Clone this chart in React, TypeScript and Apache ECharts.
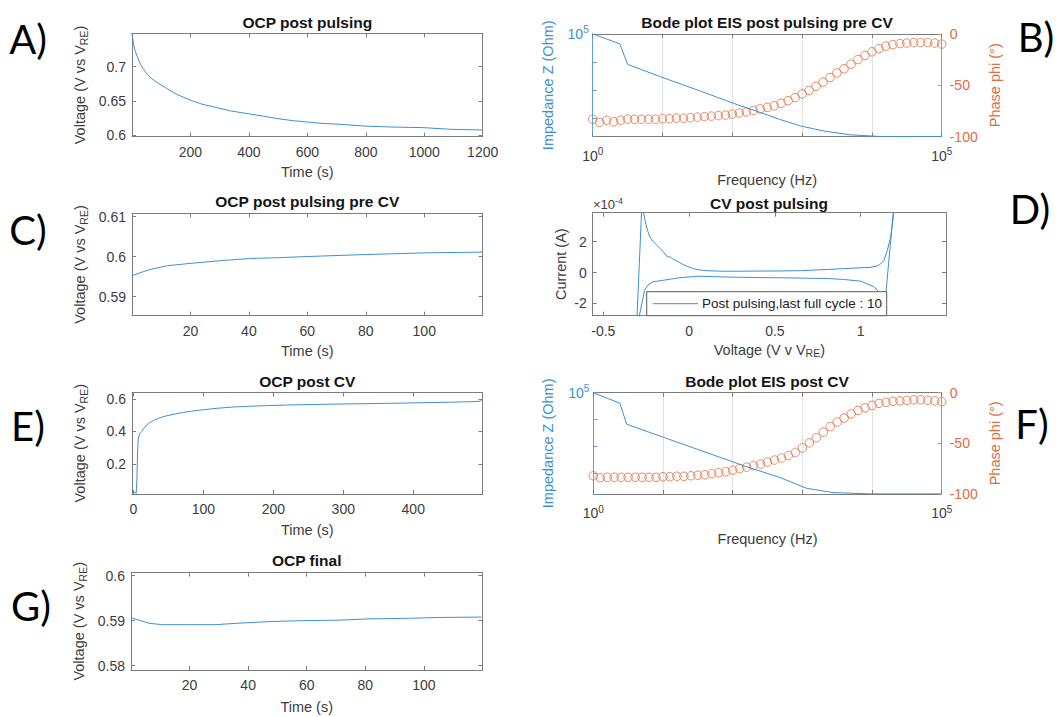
import React, { useEffect, useRef } from 'react';
import * as echarts from 'echarts';

// ---------- DATA ----------
// A) OCP post pulsing
const ocpPostPulsingTime = [0, 4.6, 10, 16, 27, 38, 50, 65, 85, 100, 119, 150, 199, 240, 290, 340, 399, 450, 496, 550, 599, 650, 713, 799, 885, 999, 1091, 1200];
const ocpPostPulsingV = [0.749, 0.734, 0.724, 0.717, 0.705, 0.697, 0.69, 0.683, 0.677, 0.673, 0.668, 0.66, 0.651, 0.645, 0.64, 0.635, 0.631, 0.6275, 0.624, 0.621, 0.619, 0.617, 0.6156, 0.613, 0.6117, 0.6107, 0.6083, 0.6073];

// C) OCP post pulsing pre CV
const ocpPreCVTime = [0, 3, 6.5, 12.2, 20.2, 29.4, 40.3, 50, 60.3, 80, 100, 120];
const ocpPreCVV = [0.5952, 0.596, 0.5968, 0.5977, 0.5983, 0.5989, 0.5995, 0.5997, 0.6, 0.6005, 0.6009, 0.6011];

// E) OCP post CV
const ocpPostCVTime = [0, 2, 4, 5, 6, 7, 9, 12, 15, 19, 24, 29, 35, 42, 48, 60, 72, 85, 100, 120, 143, 170, 190, 220, 240, 270, 293, 330, 360, 389, 420, 450, 480, 496, 498];
const ocpPostCVV = [0.03, 0.025, 0.02, 0.1, 0.28, 0.36, 0.385, 0.4, 0.418, 0.44, 0.456, 0.468, 0.48, 0.49, 0.497, 0.508, 0.518, 0.526, 0.534, 0.543, 0.551, 0.556, 0.559, 0.563, 0.565, 0.567, 0.569, 0.571, 0.573, 0.575, 0.578, 0.58, 0.583, 0.586, 0.598];

// G) OCP final
const ocpFinalTime = [0.2, 2.8, 6.2, 10.8, 20, 29, 36, 47.7, 59, 70.7, 82, 93.7, 105, 119.6];
const ocpFinalV = [0.5906, 0.5901, 0.5894, 0.5891, 0.5891, 0.5891, 0.5894, 0.5898, 0.59, 0.5901, 0.5904, 0.5905, 0.5907, 0.5908];

// EIS frequencies (Hz)
const eisFreq = [1, 1.259, 1.585, 1.995, 2.512, 3.162, 3.981, 5.012, 6.31, 7.943, 10, 12.59, 15.85, 19.95, 25.12, 31.62, 39.81, 50.12, 63.1, 79.43, 100, 125.9, 158.5, 199.5, 251.2, 316.2, 398.1, 501.2, 631, 794.3, 1000, 1259, 1585, 1995, 2512, 3162, 3981, 5012, 6310, 7943, 10000, 12589, 15849, 19953, 25119, 31623, 39811, 50119, 63096, 79433, 100000];

// B) Bode post pulsing pre CV
const phaseB = [-83, -86, -84, -85.5, -84, -83, -83, -83, -83, -83, -82.5, -82.5, -82, -82, -81.5, -81, -80.5, -80, -79.5, -79, -78, -77, -76, -74.5, -73, -71.5, -70, -67.5, -65, -62, -58.5, -55, -51, -47, -42.5, -38, -34, -29.5, -25, -21, -17.5, -14.5, -12, -10.5, -9.5, -9, -8.5, -8.5, -8.5, -9, -10];
const impFreqB = [1, 2.45, 3.16, 9.12, 34.7, 129, 251, 479, 933, 1995, 4898, 13183, 100000];
const impB = [100000, 43650, 8128, 3020, 912, 275, 158, 89, 52.5, 34.7, 25.1, 21.9, 21.7];

// F) Bode post CV
const phaseF = [-82, -84, -83.5, -83.5, -83.5, -83.5, -83.5, -83.5, -83.5, -83.5, -83, -83, -82.5, -82.5, -82, -81.5, -81, -80, -79, -78, -76.5, -75, -73.5, -72, -70.5, -68.5, -66.5, -64.5, -62, -59, -54.5, -49.5, -44.5, -39, -33.5, -29, -25, -21, -17.5, -15, -12.5, -10.5, -9.5, -8.5, -8, -7.5, -7, -7, -7.5, -8, -9];
const impFreqF = [1, 2.4, 3.02, 9.12, 33.9, 158, 479, 1148, 2754, 9333, 100000];
const impF = [100000, 40738, 6761, 2455, 741, 182, 72.4, 28.8, 20, 17.9, 17.9];

// D) CV post pulsing (V vs V_RE, A)
const cvVoltage = [
  -0.32, -0.275, -0.266, -0.257, -0.243, -0.228, -0.208, -0.169, -0.14, -0.125, -0.11, -0.095, -0.071, -0.04, -0.013, 0.026, 0.084, 0.2, 0.35, 0.5, 0.65, 0.805, 0.9, 0.98, 1.05, 1.09, 1.11, 1.136, 1.155, 1.175, 1.192, 1.215,
  1.125, 1.107, 1.078, 1.0, 0.9, 0.81, 0.6, 0.43, 0.25, 0.05, -0.05, -0.15, -0.21, -0.24, -0.26, -0.29, -0.32,
];
const cvCurrent = [
  -7.0e-4, 4.5e-4, 3.9e-4, 3.4e-4, 2.75e-4, 2.3e-4, 2.0e-4, 1.56e-4, 1.2e-4, 1.0e-4, 1.02e-4, 0.88e-4, 0.75e-4, 0.55e-4, 0.41e-4, 0.24e-4, 0.13e-4, 0.08e-4, 0.09e-4, 0.1e-4, 0.12e-4, 0.2e-4, 0.25e-4, 0.3e-4, 0.33e-4, 0.4e-4, 0.5e-4, 0.8e-4, 1.45e-4, 2.3e-4, 3.8e-4, 7.0e-4,
  -4.0e-4, -1.26e-4, -0.93e-4, -0.56e-4, -0.45e-4, -0.39e-4, -0.35e-4, -0.33e-4, -0.3e-4, -0.24e-4, -0.33e-4, -0.5e-4, -0.6e-4, -0.82e-4, -1.15e-4, -2.8e-4, -7.0e-4,
];
const cvLegend = 'Post pulsing,last full cycle : 10';

// Tick values
const ticksA_x = [200, 400, 600, 800, 1000, 1200];
const ticksA_y = [0.6, 0.65, 0.7];
const ticksC_x = [20, 40, 60, 80, 100];
const ticksC_y = [0.59, 0.6, 0.61];
const ticksE_x = [0, 100, 200, 300, 400];
const ticksE_y = [0.2, 0.4, 0.6];
const ticksG_x = [20, 40, 60, 80, 100];
const ticksG_y = [0.58, 0.59, 0.6];
const ticksD_x = [-0.5, 0, 0.5, 1];
const ticksD_y = [-2e-4, 0, 2e-4];
const ticksPhase = [-100, -50, 0];

// ---------- STYLE ----------
const FONT = '"Liberation Sans", Arial, Helvetica, sans-serif';
const LINE = '#7c7c7c';
const TXT = '#3d3d3d';
const BLUE = '#3e90d2';
const ORANGE = '#de6d3f';
const TICK_FS = 14;
const NAME_FS = 14.5;

const grids = [
  { left: 132, top: 33.3, width: 350.7, height: 103.4 }, // A
  { left: 592.7, top: 33.8, width: 349, height: 102.9 }, // B
  { left: 132, top: 213.3, width: 350.7, height: 102.4 }, // C
  { left: 592.7, top: 212.7, width: 353.3, height: 103 }, // D
  { left: 132, top: 392.5, width: 350.5, height: 101.5 }, // E
  { left: 593.3, top: 392.7, width: 348.4, height: 101.3 }, // F
  { left: 131, top: 572.6, width: 351.4, height: 102.4 }, // G
];

const subRich = {
  sub: { fontSize: 10.5, lineHeight: 10, verticalAlign: 'bottom', fontFamily: FONT, color: TXT },
};
const supRichFor = (color: string) => ({
  sup: { fontSize: 10, lineHeight: 10, verticalAlign: 'top', fontFamily: FONT, color },
});

function zip(a: number[], b: number[]) {
  return a.map((v, i) => [v, b[i]]);
}

function fmtNum(v: number) {
  return String(parseFloat(v.toFixed(6)));
}

type VA = {
  grid: number;
  position: 'bottom' | 'top' | 'left' | 'right';
  min: number;
  max: number;
  ticks: number[];
  labels?: boolean;
  formatter?: (v: number) => string;
  name?: string;
  nameGap?: number;
  color?: string;
  lineColor?: string;
  margin?: number;
};

function valueAxis(p: VA) {
  const lc = p.lineColor ?? LINE;
  return {
    type: 'value',
    gridIndex: p.grid,
    position: p.position,
    min: p.min,
    max: p.max,
    axisLine: { show: true, onZero: false, lineStyle: { color: lc, width: 1 } },
    axisTick: { show: true, inside: true, length: 4, customValues: p.ticks, lineStyle: { color: lc, width: 1 } },
    axisLabel: {
      show: !!p.labels,
      customValues: p.ticks,
      formatter: p.formatter ?? fmtNum,
      color: p.color ?? TXT,
      fontSize: TICK_FS,
      fontFamily: FONT,
      margin: p.margin ?? 8,
    },
    splitLine: { show: false },
    name: p.name,
    nameLocation: 'middle',
    nameGap: p.nameGap ?? 30,
    nameRotate: p.position === 'left' || p.position === 'right' ? 90 : 0,
    nameTextStyle: {
      fontSize: NAME_FS,
      fontFamily: FONT,
      color: p.color ?? TXT,
      lineHeight: 18,
      rich: subRich,
    },
  };
}

function logXAxis(grid: number, position: 'bottom' | 'top', labels: boolean, name?: string, nameGap?: number) {
  return {
    type: 'log',
    logBase: 10,
    gridIndex: grid,
    position,
    min: 1,
    max: 100000,
    axisLine: { show: true, onZero: false, lineStyle: { color: LINE, width: 1 } },
    axisTick: { show: true, inside: true, length: 4, lineStyle: { color: LINE } },
    axisLabel: {
      show: labels,
      color: TXT,
      fontSize: TICK_FS,
      fontFamily: FONT,
      margin: 10,
      lineHeight: 18,
      formatter: (v: number) => {
        const e = Math.log10(v);
        if (Math.abs(e) < 0.01) return '10{sup|0}';
        if (Math.abs(e - 5) < 0.01) return '10{sup|5}';
        return '';
      },
      rich: supRichFor(TXT),
    },
    splitLine: {
      show: position === 'bottom',
      lineStyle: { color: '#c4c4c4', type: 'dotted', width: 1 },
    },
    name,
    nameLocation: 'middle',
    nameGap: nameGap ?? 36,
    nameTextStyle: { fontSize: NAME_FS, fontFamily: FONT, color: TXT },
  };
}

function logYAxis(grid: number, min: number) {
  return {
    type: 'log',
    logBase: 10,
    gridIndex: grid,
    position: 'left',
    min,
    max: 100000,
    axisLine: { show: true, onZero: false, lineStyle: { color: '#5d9fd6', width: 1 } },
    axisTick: { show: true, inside: true, length: 4, lineStyle: { color: '#5d9fd6' } },
    axisLabel: {
      show: true,
      color: BLUE,
      fontSize: TICK_FS,
      fontFamily: FONT,
      margin: 4,
      lineHeight: 18,
      formatter: (v: number) => (Math.abs(Math.log10(v) - 5) < 0.01 ? '10{sup|5}' : ''),
      rich: supRichFor(BLUE),
    },
    splitLine: { show: false },
    name: 'Impedance Z (Ohm)',
    nameLocation: 'middle',
    nameRotate: 90,
    nameGap: 36,
    nameTextStyle: { fontSize: NAME_FS, fontFamily: FONT, color: BLUE, lineHeight: 18 },
  };
}

function phaseAxis(grid: number) {
  return {
    type: 'value',
    gridIndex: grid,
    position: 'right',
    min: -100,
    max: 0,
    axisLine: { show: true, onZero: false, lineStyle: { color: '#d98a66', width: 1 } },
    axisTick: { show: true, inside: true, length: 4, customValues: ticksPhase, lineStyle: { color: '#d98a66' } },
    axisLabel: {
      show: true,
      customValues: ticksPhase,
      color: ORANGE,
      fontSize: TICK_FS,
      fontFamily: FONT,
      margin: 8,
    },
    splitLine: { show: false },
    name: 'Phase phi (°)',
    nameLocation: 'middle',
    nameRotate: 90,
    nameGap: 44,
    nameTextStyle: { fontSize: NAME_FS, fontFamily: FONT, color: ORANGE, lineHeight: 18 },
  };
}

const voltName = 'Voltage (V vs V{sub|RE})';

function lineSeries(x: number, data: number[][]) {
  return {
    type: 'line',
    xAxisIndex: x,
    yAxisIndex: x,
    data,
    showSymbol: false,
    symbol: 'none',
    smooth: false,
    clip: true,
    silent: true,
    lineStyle: { color: BLUE, width: 1 },
    itemStyle: { color: BLUE },
  };
}

function phaseSeries(idx: number, phase: number[]) {
  return {
    type: 'scatter',
    xAxisIndex: idx * 2,
    yAxisIndex: idx * 2 + 1,
    data: zip(eisFreq, phase),
    symbol: 'circle',
    symbolSize: 8.5,
    silent: true,
    itemStyle: { color: 'rgba(255,255,255,0)', borderColor: ORANGE, borderWidth: 1 },
  };
}

function ocpAxes(i: number, xr: [number, number], xt: number[], yr: [number, number], yt: number[], xNameGap: number) {
  const x = [
    valueAxis({ grid: i, position: 'bottom', min: xr[0], max: xr[1], ticks: xt, labels: true, name: 'Time (s)', nameGap: xNameGap }),
    valueAxis({ grid: i, position: 'top', min: xr[0], max: xr[1], ticks: xt }),
  ];
  const y = [
    valueAxis({ grid: i, position: 'left', min: yr[0], max: yr[1], ticks: yt, labels: true, name: voltName, nameGap: 43, margin: 6 }),
    valueAxis({ grid: i, position: 'right', min: yr[0], max: yr[1], ticks: yt }),
  ];
  return { x, y };
}

function buildOption() {
  const A = ocpAxes(0, [0, 1200], ticksA_x, [0.5975, 0.7487], ticksA_y, 26);
  const C = ocpAxes(2, [0, 120], ticksC_x, [0.5852, 0.6108], ticksC_y, 26);
  const E = ocpAxes(4, [-2, 499], ticksE_x, [0.015, 0.64], ticksE_y, 27);
  const G = ocpAxes(6, [0, 120], ticksG_x, [0.579, 0.6007], ticksG_y, 28);

  const D = {
    x: [
      valueAxis({ grid: 3, position: 'bottom', min: -0.562, max: 1.497, ticks: ticksD_x, labels: true, name: 'Voltage (V v V{sub|RE})', nameGap: 25 }),
      valueAxis({ grid: 3, position: 'top', min: -0.562, max: 1.497, ticks: ticksD_x }),
    ],
    y: [
      valueAxis({
        grid: 3, position: 'left', min: -2.8e-4, max: 3.88e-4, ticks: ticksD_y, labels: true,
        formatter: (v: number) => String(Math.round(v * 1e4)), name: 'Current (A)', nameGap: 22, margin: 6,
      }),
      valueAxis({ grid: 3, position: 'right', min: -2.8e-4, max: 3.88e-4, ticks: ticksD_y }),
    ],
  };

  const xAxis = [
    ...A.x,
    logXAxis(1, 'bottom', true, 'Frequency (Hz)', 36),
    logXAxis(1, 'top', false),
    ...C.x,
    ...D.x,
    ...E.x,
    logXAxis(5, 'bottom', true, 'Frequency (Hz)', 37),
    logXAxis(5, 'top', false),
    ...G.x,
  ];
  const yAxis = [
    ...A.y,
    logYAxis(1, 21.5),
    phaseAxis(1),
    ...C.y,
    ...D.y,
    ...E.y,
    logYAxis(5, 17.7),
    phaseAxis(5),
    ...G.y,
  ];

  const series = [
    lineSeries(0, zip(ocpPostPulsingTime, ocpPostPulsingV)),
    lineSeries(2, zip(impFreqB, impB)),
    phaseSeries(1, phaseB),
    lineSeries(4, zip(ocpPreCVTime, ocpPreCVV)),
    { ...lineSeries(6, zip(cvVoltage, cvCurrent)), name: cvLegend },
    lineSeries(8, zip(ocpPostCVTime, ocpPostCVV)),
    lineSeries(10, zip(impFreqF, impF)),
    phaseSeries(5, phaseF),
    lineSeries(12, zip(ocpFinalTime, ocpFinalV)),
  ];

  const titleStyle = (text: string, x: number, y: number) => ({
    type: 'text',
    x,
    y,
    silent: true,
    z: 100,
    style: {
      text,
      fill: '#151515',
      font: `bold 15.5px ${FONT}`,
      textAlign: 'center',
      textVerticalAlign: 'middle',
    },
  });
  const letter = (text: string, x: number, y: number) => ({
    type: 'text',
    x,
    y,
    silent: true,
    z: 100,
    style: {
      text,
      fill: '#000',
      font: `40px Lato, "Open Sans", sans-serif`,
      textAlign: 'center',
      textVerticalAlign: 'middle',
    },
  });

  // legend box of panel D (MATLAB style, anchored at the bottom of the axes)
  const legendBox = {
    type: 'group',
    z: 100,
    silent: true,
    children: [
      {
        type: 'rect',
        z: 100,
        shape: { x: 646.7, y: 291.7, width: 240, height: 24 },
        style: { fill: '#ffffff', stroke: '#5a5a5a', lineWidth: 1 },
      },
      {
        type: 'line',
        z: 101,
        shape: { x1: 653, y1: 303.7, x2: 698, y2: 303.7 },
        style: { stroke: BLUE, lineWidth: 1 },
      },
      {
        type: 'text',
        z: 101,
        x: 702,
        y: 303.7,
        style: {
          text: cvLegend,
          fill: '#222',
          font: `13.5px ${FONT}`,
          textAlign: 'left',
          textVerticalAlign: 'middle',
        },
      },
    ],
  };

  const graphic = [
    titleStyle('OCP post pulsing', 307.3, 22),
    titleStyle('Bode plot EIS post pulsing pre CV', 767, 22),
    titleStyle('OCP post pulsing pre CV', 307.3, 201.5),
    titleStyle('CV post pulsing', 769, 203),
    titleStyle('OCP post CV', 307.3, 381),
    titleStyle('Bode plot EIS post CV', 767, 381),
    titleStyle('OCP final', 306.7, 560.5),
    letter('A)', 28, 39),
    letter('B)', 1036, 37),
    letter('C)', 28, 230),
    letter('D)', 1030, 209),
    letter('E)', 28, 426),
    letter('F)', 1032, 424),
    letter('G)', 31, 606),
    legendBox,
    {
      type: 'text',
      x: 593,
      y: 204,
      silent: true,
      z: 100,
      style: {
        text: '×10{sup|-4}',
        fill: TXT,
        font: `13px ${FONT}`,
        lineHeight: 16,
        textAlign: 'left',
        textVerticalAlign: 'middle',
        rich: { sup: { fontSize: 9, lineHeight: 9, verticalAlign: 'top', fill: TXT, fontFamily: FONT } },
      },
    },
  ];

  return {
    animation: false,
    backgroundColor: '#ffffff',
    grid: grids.map((g) => ({ ...g, containLabel: false })),
    xAxis,
    yAxis,
    series,
    graphic,
  };
}

export default function App() {
  const ref = useRef<HTMLDivElement>(null);
  useEffect(() => {
    if (!ref.current) return;
    const chart = echarts.init(ref.current, undefined, { renderer: 'svg' });
    chart.setOption(buildOption() as any);
    return () => chart.dispose();
  }, []);
  return (
    <div
      ref={ref}
      style={{ position: 'fixed', left: 0, top: 0, width: 1059, height: 717, background: '#fff' }}
    />
  );
}
